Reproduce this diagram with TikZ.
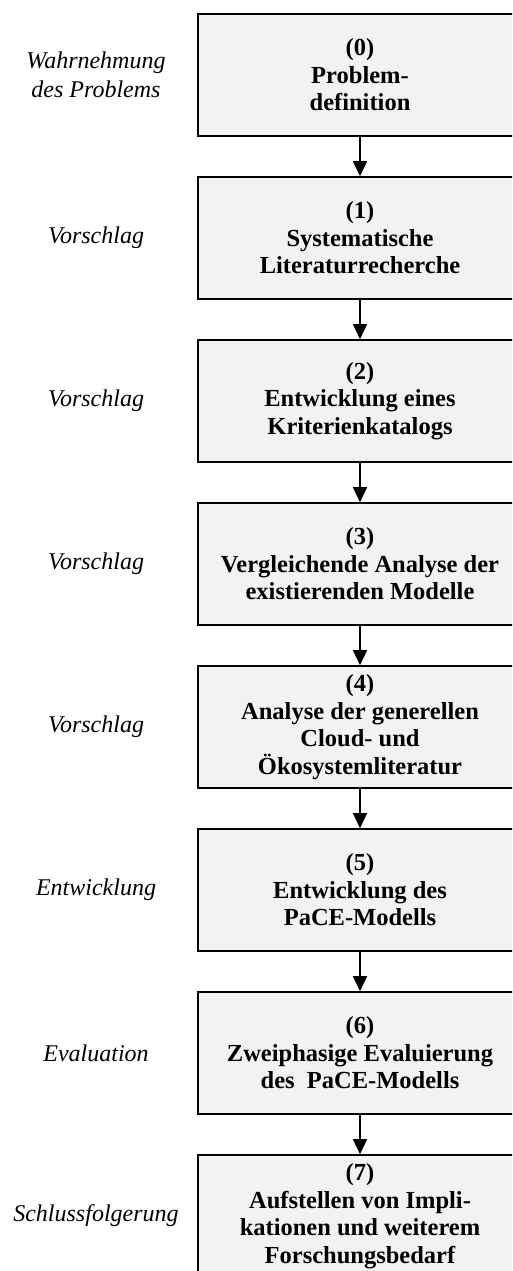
\documentclass[tikz,border=0pt]{standalone}
\usepackage{fontspec}
\setmainfont{Liberation Serif}
\usetikzlibrary{arrows.meta}
\definecolor{boxfill}{RGB}{242,242,242}
\tikzset{
  stepbox/.style={draw=black, line width=1.6pt, fill=boxfill, minimum width=324pt, minimum height=122pt, inner sep=0pt, align=center, font=\fontsize{24.5}{27.5}\selectfont\bfseries},
  phase/.style={align=center, inner sep=0pt, font=\fontsize{24}{29}\selectfont\itshape},
  flow/.style={line width=1.5pt, -{Triangle[length=15pt,width=14pt]}}
}
\begin{document}
\begin{tikzpicture}[x=1pt,y=-1pt]
\useasboundingbox (0,0) rectangle (512,1271);
\clip (0,0) rectangle (512,1271);
\node[stepbox] (b0) at (360,75) {(0)\\Problem-\\definition};
\node[stepbox] (b1) at (360,238) {(1)\\Systematische\\Literaturrecherche};
\node[stepbox] (b2) at (360,401) {(2)\\Entwicklung eines\\Kriterienkatalogs};
\node[stepbox] (b3) at (360,564) {(3)\\Vergleichende Analyse der\\existierenden Modelle};
\node[stepbox] (b4) at (360,727) {(4)\\Analyse der generellen\\Cloud- und\\Ökosystemliteratur};
\node[stepbox] (b5) at (360,890) {(5)\\Entwicklung des\\PaCE-Modells};
\node[stepbox] (b6) at (360,1053) {(6)\\Zweiphasige Evaluierung\\des\ \ PaCE-Modells};
\node[stepbox] (b7) at (360,1216) {(7)\\Aufstellen von Impli-\\kationen und weiterem\\Forschungsbedarf};
\node[phase] (p0) at (96,75) {Wahrnehmung\\des Problems};
\node[phase] (p1) at (96,238) {Vorschlag};
\node[phase] (p2) at (96,401) {Vorschlag};
\node[phase] (p3) at (96,564) {Vorschlag};
\node[phase] (p4) at (96,727) {Vorschlag};
\node[phase] (p5) at (96,890) {Entwicklung};
\node[phase] (p6) at (96,1053) {Evaluation};
\node[phase] (p7) at (96,1216) {Schlussfolgerung};
\foreach \a/\b in {b0/b1,b1/b2,b2/b3,b3/b4,b4/b5,b5/b6,b6/b7}
  \draw[flow] (\a.south) -- (\b.north);
\end{tikzpicture}
\end{document}
